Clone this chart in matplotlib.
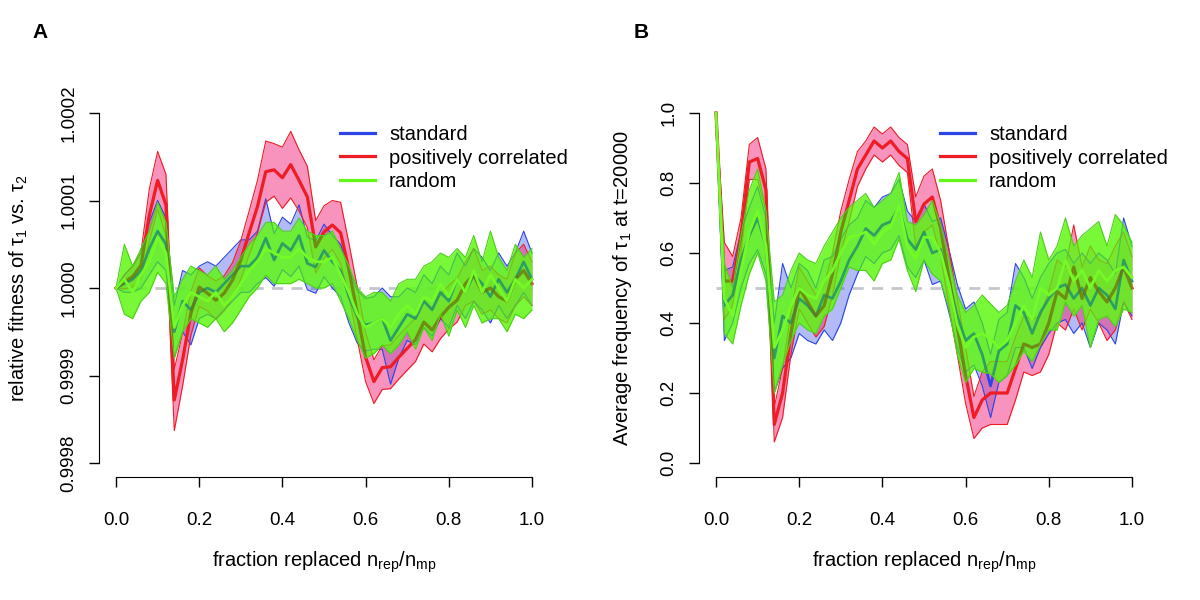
import numpy as np
import matplotlib
matplotlib.use("Agg")
import matplotlib.pyplot as plt

plt.rcParams['font.family'] = ['Liberation Sans', 'DejaVu Sans']
plt.rcParams['mathtext.fontset'] = 'custom'
plt.rcParams['mathtext.rm'] = 'Liberation Sans'

# fraction replaced n_rep / n_mp
frac = np.round(np.arange(0, 51) * 0.02, 2)

# panel A: relative fitness, stored as (fitness - 1) in units of 1e-4
fit_std_mean = [0, 0.05, 0.1, 0.2, 0.45, 0.65, 0.5, -0.5, -0.15, -0.25, -0.05, 0.0, -0.05, 0.05, 0.15, 0.25, 0.25,
                0.35, 0.57, 0.32, 0.51, 0.43, 0.6, 0.28, 0.24, 0.43, 0.3, 0.2, -0.1, -0.33, -0.42, -0.4, -0.35, -0.6,
                -0.45, -0.3, -0.35, -0.15, -0.25, -0.05, -0.15, 0.1, -0.05, 0.15, 0.05, -0.1, 0.1, -0.05, 0.1, 0.3, 0.1]
fit_std_err = [0, 0.1, 0.15, 0.2, 0.3, 0.35, 0.3, 0.3, 0.35, 0.4, 0.3, 0.3, 0.3, 0.3, 0.3, 0.3, 0.3,
               0.3, 0.45, 0.3, 0.3, 0.3, 0.35, 0.3, 0.3, 0.3, 0.3, 0.3, 0.3, 0.3, 0.3, 0.3, 0.35, 0.5,
               0.35, 0.3, 0.3, 0.3, 0.3, 0.3, 0.3, 0.3, 0.3, 0.3, 0.3, 0.3, 0.3, 0.3, 0.3, 0.35, 0.3]
fit_pos_mean = [0.0, 0.07, 0.13, 0.26, 0.83, 1.23, 0.95, -1.28, -0.82, -0.29, 0.01, -0.06, -0.14, -0.06, 0.09, 0.32, 0.63,
                0.93, 1.33, 1.35, 1.26, 1.41, 1.23, 1.04, 0.47, 0.64, 0.72, 0.63, 0.21, -0.29, -0.79, -1.07, -0.91, -0.90,
                -0.79, -0.69, -0.59, -0.39, -0.48, -0.33, -0.22, -0.14, 0.05, 0.15, -0.05, 0.0, -0.10, -0.15, 0.10, 0.20, 0.05]
fit_pos_err = [0, 0.08, 0.12, 0.15, 0.3, 0.33, 0.35, 0.35, 0.3, 0.25, 0.22, 0.2, 0.22, 0.2, 0.2, 0.22, 0.25,
               0.3, 0.35, 0.3, 0.35, 0.38, 0.35, 0.35, 0.3, 0.3, 0.28, 0.35, 0.3, 0.3, 0.28, 0.25, 0.25, 0.25,
               0.25, 0.25, 0.25, 0.25, 0.25, 0.25, 0.25, 0.25, 0.25, 0.3, 0.25, 0.25, 0.25, 0.25, 0.3, 0.3, 0.25]
fit_rnd_mean = [0, 0.1, -0.05, 0.15, 0.3, 0.58, 0.4, -0.45, -0.2, -0.05, -0.1, -0.15, -0.05, -0.2, -0.1, 0.05, 0.2,
                0.3, 0.45, 0.4, 0.35, 0.35, 0.45, 0.35, 0.3, 0.3, 0.35, 0.15, -0.05, -0.3, -0.45, -0.4, -0.35, -0.45,
                -0.3, -0.2, -0.3, -0.1, -0.15, 0.05, -0.1, 0.1, -0.05, 0.2, -0.05, 0.15, 0.0, -0.15, 0.1, 0.0, 0.1]
fit_rnd_err = [0, 0.4, 0.3, 0.3, 0.35, 0.4, 0.35, 0.35, 0.3, 0.3, 0.3, 0.3, 0.3, 0.3, 0.3, 0.3, 0.3,
               0.3, 0.3, 0.35, 0.3, 0.3, 0.35, 0.3, 0.3, 0.3, 0.3, 0.3, 0.3, 0.3, 0.35, 0.35, 0.3, 0.3,
               0.35, 0.3, 0.4, 0.35, 0.45, 0.35, 0.45, 0.35, 0.4, 0.4, 0.35, 0.5, 0.35, 0.35, 0.4, 0.35, 0.35]

# panel B: average frequency of tau_1 at t=20000
frq_std_mean = [1.0, 0.45, 0.48, 0.58, 0.65, 0.70, 0.62, 0.30, 0.42, 0.40, 0.47, 0.45, 0.42, 0.48, 0.47, 0.52, 0.58,
                0.62, 0.67, 0.65, 0.68, 0.69, 0.73, 0.64, 0.61, 0.66, 0.60, 0.61, 0.52, 0.42, 0.35, 0.37, 0.31, 0.22,
                0.32, 0.34, 0.45, 0.43, 0.37, 0.43, 0.47, 0.50, 0.51, 0.47, 0.50, 0.45, 0.50, 0.48, 0.44, 0.58, 0.52]
frq_std_err = [0, 0.1, 0.08, 0.08, 0.08, 0.09, 0.08, 0.1, 0.15, 0.1, 0.1, 0.1, 0.08, 0.1, 0.12, 0.12, 0.1,
               0.08, 0.08, 0.08, 0.08, 0.08, 0.08, 0.08, 0.08, 0.08, 0.09, 0.09, 0.09, 0.09, 0.09, 0.09, 0.09, 0.09,
               0.09, 0.09, 0.12, 0.1, 0.1, 0.1, 0.1, 0.1, 0.1, 0.1, 0.1, 0.12, 0.1, 0.1, 0.1, 0.12, 0.1]
frq_pos_mean = [1.0, 0.52, 0.52, 0.65, 0.86, 0.87, 0.78, 0.11, 0.20, 0.37, 0.50, 0.46, 0.42, 0.45, 0.54, 0.66, 0.75,
                0.84, 0.88, 0.92, 0.90, 0.92, 0.89, 0.87, 0.69, 0.74, 0.76, 0.67, 0.53, 0.39, 0.25, 0.13, 0.18, 0.20,
                0.20, 0.20, 0.27, 0.34, 0.33, 0.34, 0.40, 0.49, 0.47, 0.56, 0.47, 0.53, 0.49, 0.46, 0.50, 0.56, 0.50]
frq_pos_err = [0, 0.11, 0.07, 0.05, 0.05, 0.06, 0.06, 0.05, 0.07, 0.06, 0.06, 0.06, 0.06, 0.06, 0.06, 0.06, 0.06,
               0.05, 0.04, 0.04, 0.04, 0.04, 0.04, 0.04, 0.07, 0.08, 0.08, 0.08, 0.08, 0.08, 0.08, 0.06, 0.08, 0.09,
               0.09, 0.09, 0.09, 0.08, 0.08, 0.08, 0.09, 0.09, 0.09, 0.12, 0.09, 0.09, 0.09, 0.11, 0.12, 0.1, 0.09]
frq_rnd_mean = [1.0, 0.47, 0.42, 0.55, 0.66, 0.72, 0.62, 0.33, 0.38, 0.45, 0.50, 0.48, 0.47, 0.52, 0.55, 0.60, 0.645,
                0.65, 0.66, 0.625, 0.66, 0.675, 0.735, 0.62, 0.585, 0.645, 0.645, 0.60, 0.51, 0.395, 0.33, 0.36, 0.37,
                0.355, 0.33, 0.35, 0.40, 0.45, 0.41, 0.50, 0.48, 0.50, 0.58, 0.52, 0.55, 0.50, 0.55, 0.52, 0.55, 0.56, 0.53]
frq_rnd_err = [0, 0.1, 0.08, 0.1, 0.12, 0.12, 0.1, 0.13, 0.1, 0.1, 0.1, 0.1, 0.1, 0.1, 0.11, 0.1, 0.085,
               0.1, 0.11, 0.105, 0.09, 0.095, 0.095, 0.07, 0.095, 0.065, 0.105, 0.08, 0.07, 0.085, 0.1, 0.09, 0.11,
               0.1, 0.1, 0.1, 0.12, 0.13, 0.12, 0.16, 0.1, 0.12, 0.12, 0.1, 0.1, 0.17, 0.14, 0.1, 0.16, 0.12, 0.1]

series_names = ['standard', 'positively correlated', 'random']
fit_ticks = [0.9998, 0.9999, 1.0, 1.0001, 1.0002]
fit_ticklabels = ['0.9998', '0.9999', '1.0000', '1.0001', '1.0002']
frq_ticks = [0.0, 0.2, 0.4, 0.6, 0.8, 1.0]
frq_ticklabels = ['0.0', '0.2', '0.4', '0.6', '0.8', '1.0']
x_ticks = [0.0, 0.2, 0.4, 0.6, 0.8, 1.0]
x_ticklabels = ['0.0', '0.2', '0.4', '0.6', '0.8', '1.0']

BLUE = '#2b45e6'
RED = '#ee1c25'
GREEN = '#62f716'
FS = 14.5


def draw_panel(ax, std, pos, rnd, ref, ylim, yticks, yticklabels):
    x = frac
    ax.plot([0, 1], [ref, ref], color='#c3c7cc', lw=2, ls=(0, (4, 3)), zorder=1)

    m, e = np.array(std[0]), np.array(std[1])
    m2, e2 = np.array(pos[0]), np.array(pos[1])
    m3, e3 = np.array(rnd[0]), np.array(rnd[1])

    # standard and positively correlated bands, under the random band
    ax.fill_between(x, m - e, m + e, color=BLUE, alpha=0.36, lw=0, zorder=2)
    ax.fill_between(x, m2 - e2, m2 + e2, color='#f0307f', alpha=0.52, lw=0, zorder=3)
    for yy, c in [(m - e, BLUE), (m + e, BLUE), (m2 - e2, RED), (m2 + e2, RED)]:
        ax.plot(x, yy, color=c, lw=0.8, zorder=3)
    ax.plot(x, m, color=BLUE, lw=1.9, zorder=4)
    ax.plot(x, m2, color=RED, lw=2.3, zorder=4)

    # random band on top
    band = ax.fill_between(x, m3 - e3, m3 + e3, color=GREEN, alpha=0.86, lw=0, zorder=5)
    clip = band.get_paths()[0]

    # the other lines as they show through the random band
    seen = [(m - e, '#2a9a80', 0.8, 0.45), (m + e, '#2a9a80', 0.8, 0.45),
            (m2 - e2, '#8a9a1a', 0.8, 0.45), (m2 + e2, '#8a9a1a', 0.8, 0.45),
            (m, '#1f8a72', 1.9, 0.75), (m2, '#6a7010', 2.3, 0.7)]
    for yy, c, w, a in seen:
        ln, = ax.plot(x, yy, color=c, lw=w, alpha=a, zorder=6)
        ln.set_clip_path(clip, transform=ax.transData)

    ax.plot(x, m3 - e3, color='#4cd018', lw=0.8, zorder=6)
    ax.plot(x, m3 + e3, color='#4cd018', lw=0.8, zorder=6)
    ax.plot(x, m3, color='#74fa26', lw=2.0, zorder=7)

    for c, lab in zip([BLUE, RED, GREEN], series_names):
        ax.plot([], [], color=c, lw=2.3, label=lab)

    ax.set_xlim(-0.04, 1.04)
    ax.set_ylim(*ylim)
    ax.set_xticks(x_ticks)
    ax.set_xticklabels(x_ticklabels)
    ax.set_yticks(yticks)
    ax.set_yticklabels(yticklabels, rotation=90, va='center')
    for s in ['top', 'right']:
        ax.spines[s].set_visible(False)
    ax.spines['bottom'].set_bounds(0, 1)
    ax.spines['left'].set_bounds(yticks[0], yticks[-1])
    ax.tick_params(axis='both', labelsize=13.5, length=7, width=1, direction='out')
    ax.tick_params(axis='x', pad=18)
    ax.tick_params(axis='y', pad=9)
    ax.legend(loc='upper left', bbox_to_anchor=(0.535, 0.932), frameon=False, fontsize=FS,
              handlelength=1.75, handletextpad=0.7, labelspacing=0.24, borderpad=0, borderaxespad=0)


fig = plt.figure(figsize=(12, 6), dpi=100)
ax_a = fig.add_axes([99.4 / 1200, 123 / 600, 449.2 / 1200, 378 / 600])
ax_b = fig.add_axes([699.4 / 1200, 123 / 600, 449.2 / 1200, 378 / 600])

fa_mean = [1 + np.array(v) * 1e-4 for v in (fit_std_mean, fit_pos_mean, fit_rnd_mean)]
fa_err = [np.array(v) * 1e-4 for v in (fit_std_err, fit_pos_err, fit_rnd_err)]
draw_panel(ax_a, (fa_mean[0], fa_err[0]), (fa_mean[1], fa_err[1]), (fa_mean[2], fa_err[2]), 1.0,
           (0.9998 - 0.000016, 1.0002 + 0.000016), fit_ticks, fit_ticklabels)
draw_panel(ax_b, (frq_std_mean, frq_std_err), (frq_pos_mean, frq_pos_err), (frq_rnd_mean, frq_rnd_err), 0.5,
           (-0.04, 1.04), frq_ticks, frq_ticklabels)

fig.text(40 / 1200, 1 - 33 / 600, 'A', fontsize=15, fontweight='bold', ha='center', va='center')
fig.text(641 / 1200, 1 - 33 / 600, 'B', fontsize=15, fontweight='bold', ha='center', va='center')
xlab = r'fraction replaced n$_\mathregular{rep}$/n$_\mathregular{mp}$'
fig.text(324 / 1200, 1 - 562 / 600, xlab, fontsize=FS, ha='center', va='center')
fig.text(924 / 1200, 1 - 562 / 600, xlab, fontsize=FS, ha='center', va='center')
fig.text(19 / 1200, 1 - 288 / 600, r'relative fitness of τ$_\mathregular{1}$ vs. τ$_\mathregular{2}$',
         fontsize=FS, ha='center', va='center', rotation=90)
fig.text(622 / 1200, 1 - 288 / 600, r'Average frequency of τ$_\mathregular{1}$ at t=20000',
         fontsize=FS, ha='center', va='center', rotation=90)

fig.savefig('out.png', dpi=100)
